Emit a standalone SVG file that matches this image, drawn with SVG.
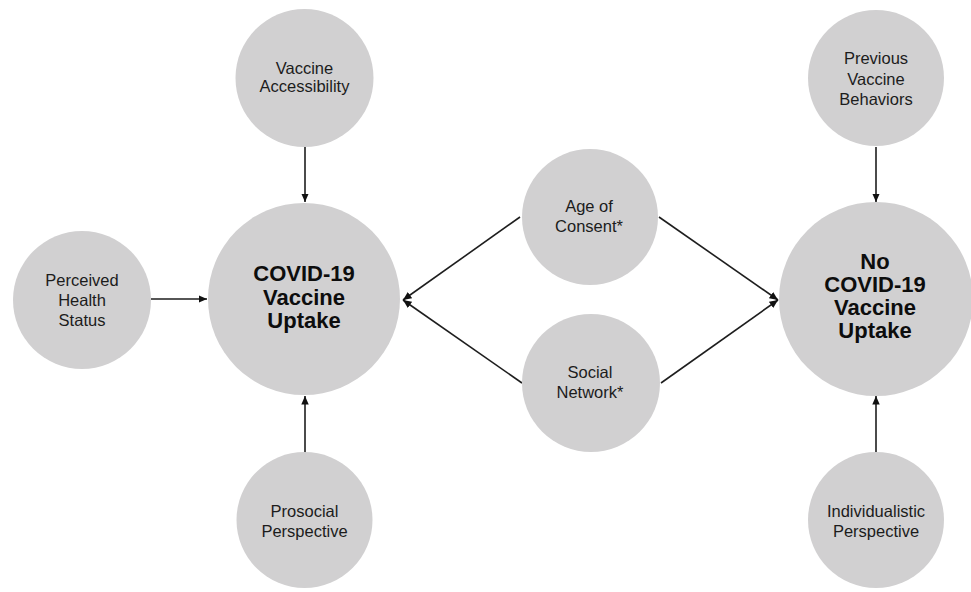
<svg xmlns="http://www.w3.org/2000/svg" width="971" height="592" viewBox="0 0 971 592">
<style>
.n{fill:#d1d0d1;}
.t{font-family:"Liberation Sans",Arial,sans-serif;font-size:16.5px;fill:#1c1c1c;text-anchor:middle;}
.b{font-family:"Liberation Sans",Arial,sans-serif;font-size:22px;font-weight:bold;fill:#0d0d0d;text-anchor:middle;}
.c{stroke:#1e1e1e;stroke-width:1.6;fill:none;marker-end:url(#ah);}
</style>
<defs>
<marker id="ah" markerUnits="userSpaceOnUse" markerWidth="9" markerHeight="8" refX="8.5" refY="3.75" orient="auto">
<path d="M0,0 L8.5,3.75 L0,7.5 z" fill="#111"/>
</marker>
</defs>
<rect width="971" height="592" fill="#fff"/>
<g id="connectors">
<line class="c" x1="305" y1="147" x2="305" y2="202"/>
<line class="c" x1="151" y1="299" x2="207" y2="299"/>
<line class="c" x1="305" y1="453" x2="305" y2="396"/>
<line class="c" x1="520" y1="217" x2="403" y2="300"/>
<line class="c" x1="522" y1="383" x2="403" y2="300"/>
<line class="c" x1="659" y1="217" x2="778" y2="300"/>
<line class="c" x1="661" y1="383" x2="778" y2="300"/>
<line class="c" x1="876" y1="147" x2="876" y2="202"/>
<line class="c" x1="876" y1="453" x2="876" y2="396"/>
</g>
<g id="vaccine-accessibility">
<circle class="n" cx="304.5" cy="78" r="69"/>
<text class="t" x="304.5" y="74">Vaccine</text>
<text class="t" x="304.5" y="92">Accessibility</text>
</g>
<g id="perceived-health-status">
<circle class="n" cx="82" cy="300" r="69"/>
<text class="t" x="82" y="286">Perceived</text>
<text class="t" x="82" y="306">Health</text>
<text class="t" x="82" y="326">Status</text>
</g>
<g id="covid-uptake">
<circle class="n" cx="304" cy="299" r="96"/>
<text class="b" x="304" y="281">COVID-19</text>
<text class="b" x="304" y="305">Vaccine</text>
<text class="b" x="304" y="328">Uptake</text>
</g>
<g id="prosocial-perspective">
<circle class="n" cx="304.5" cy="520" r="68"/>
<text class="t" x="304.5" y="517">Prosocial</text>
<text class="t" x="304.5" y="537">Perspective</text>
</g>
<g id="age-of-consent">
<circle class="n" cx="590" cy="217" r="68"/>
<text class="t" x="589" y="212">Age of</text>
<text class="t" x="589" y="232">Consent*</text>
</g>
<g id="social-network">
<circle class="n" cx="591" cy="383" r="69"/>
<text class="t" x="590" y="378">Social</text>
<text class="t" x="590" y="398">Network*</text>
</g>
<g id="no-covid-uptake">
<circle class="n" cx="876" cy="299" r="97"/>
<text class="b" x="875" y="269">No</text>
<text class="b" x="875" y="292">COVID-19</text>
<text class="b" x="875" y="315">Vaccine</text>
<text class="b" x="875" y="338">Uptake</text>
</g>
<g id="previous-vaccine-behaviors">
<circle class="n" cx="876" cy="78" r="68"/>
<text class="t" x="876" y="64">Previous</text>
<text class="t" x="876" y="85">Vaccine</text>
<text class="t" x="876" y="105">Behaviors</text>
</g>
<g id="individualistic-perspective">
<circle class="n" cx="876" cy="520" r="68"/>
<text class="t" x="876" y="517">Individualistic</text>
<text class="t" x="876" y="537">Perspective</text>
</g>
</svg>
